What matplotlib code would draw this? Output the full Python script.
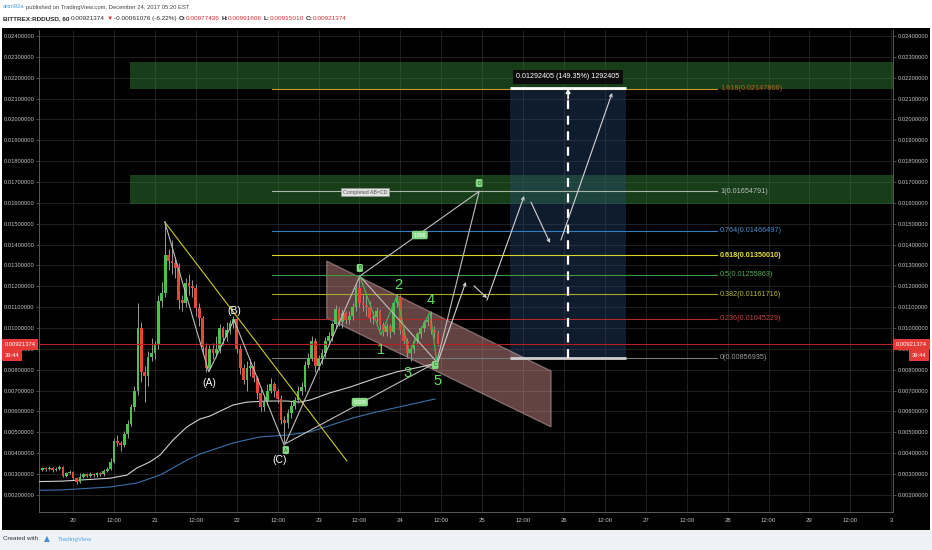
import numpy as np
import matplotlib
matplotlib.use("Agg")
import matplotlib.pyplot as plt
from matplotlib.patches import Rectangle, Polygon

UNIT = 1e-4  # candle / MA prices below are written in units of 0.0001 USD

# ---------------- hourly candles (hour 0 = Dec 20 00:00) ----------------
first_hour = -9
first_open = 32.0
closes = [32.8, 32.2, 33.0, 32.0, 32.6, 33.4, 29.0, 30.4, 31.0, 28.2,
          26.0, 28.5, 29.8, 29.2, 30.1, 29.4, 30.5, 30.0, 31.6, 32.6,
          36, 46, 45, 44, 49, 54, 62, 70, 100, 79,
          77, 86, 88, 92, 113, 117, 135, 132, 131, 129,
          113.5, 112, 121.5, 120, 119, 109.5, 105, 91, 81, 90,
          88, 90, 100, 95.5, 99, 102.5, 104.5, 90, 81, 75,
          81, 82, 76, 69, 62, 65, 70, 73, 70, 66,
          56, 54.5, 59.5, 62.5, 65.5, 70, 71.5, 82.5, 85.5, 94,
          82, 85, 88, 94, 96, 102, 109, 103, 107, 104,
          106, 110, 119, 112, 111, 110, 105, 105.5, 108, 101.5,
          98, 101, 98, 112, 115, 99, 94, 88, 90, 94,
          97, 100, 103, 104, 99, 97.7436, 92.1374]
highs = [33.6, 33.4, 33.8, 33.5, 33.2, 34.2, 34.0, 31.2, 31.8, 31.5,
         28.8, 30.6, 30.5, 30.4, 30.8, 30.6, 31.0, 31.2, 32.2, 33.4,
         37.5, 47.5, 48.5, 46, 50.5, 56, 63.5, 72, 112, 103,
         82, 89, 95, 94, 116, 122, 150, 138, 142, 134,
         131, 116, 124, 126, 123, 121, 112, 106, 93, 92,
         93, 96, 102, 101, 103, 104, 106, 105, 92, 83,
         84, 85, 84, 77, 71, 68, 73, 76, 74, 71,
         68, 58, 61, 65, 67, 72, 74, 84, 88, 96,
         95, 87, 90, 95.5, 98, 103, 111, 110, 109, 108,
         108, 112, 121, 125, 116, 117, 113, 108, 110, 109,
         103, 102.5, 102, 113, 116.5, 116, 100, 95, 92, 95,
         98, 101, 104, 106, 108, 101, 99.1606]
lows = [31.5, 31.6, 31.8, 31.2, 31.4, 32.0, 28.5, 28.6, 29.8, 27.6,
        25.4, 25.8, 27.9, 28.4, 28.6, 28.8, 28.5, 29.2, 29.3, 30.8,
        32.0, 35.5, 43.5, 41, 43, 47.5, 53, 60, 68, 74,
        64.5, 72, 84, 85, 90, 110, 115, 128, 126, 124,
        109, 108, 110, 116, 115, 106, 101, 88, 79, 80,
        85, 86, 88, 92, 94, 97, 100, 88, 78, 73,
        70, 77, 74, 66, 60, 60, 63, 69, 67, 64,
        54, 45, 52, 57, 61, 64, 68, 70, 81, 84,
        79, 80, 83, 86, 92, 94, 100, 101, 100, 102,
        102, 104, 108, 110, 108, 106, 103, 102, 103, 99,
        96, 96, 95, 97, 110, 97, 92, 86, 84, 88,
        92, 95, 98, 101, 97, 95, 91.501]

# moving averages
ma_white_hours = [-10.0, -3.3, 10.8, 15.8, 18.7, 22.5, 25.5, 29.3, 33.4, 37.2, 40.1,
                  46.9, 51.0, 56.9, 62.7, 66.5, 69.5, 75.3, 81.2, 89.1, 95.0, 101.8, 106.7]
ma_white = [26.4, 26.6, 28.0, 29.5, 32.9, 35.8, 39.1, 46.3, 52.6, 56.4, 57.8,
            63.1, 64.5, 65.0, 65.0, 64.5, 65.5, 68.9, 71.7, 76.1, 79.0, 81.3, 83.2]
ma_blue_hours = [-10.0, -3.3, 10.8, 18.7, 25.5, 33.4, 37.2, 46.9, 54.8, 62.7, 69.5, 82.1, 89.1, 106.2]
ma_blue = [22.2, 22.4, 23.8, 25.7, 29.5, 36.7, 39.6, 44.9, 47.8, 48.7, 50.2, 56.9, 59.8, 66.0]

# fibonacci levels
fib_ratios = ["1.618", "1", "0.764", "0.618", "0.5", "0.382", "0.236", "0"]
fib_prices = [0.02147866, 0.01654791, 0.01466497, 0.01350010,
              0.01255863, 0.01161716, 0.01045229, 0.00856935]
fib_line_colors = ['#c99a2e', '#aab4aa', '#2f7fc1', '#d8d42a', '#3d9a3d', '#a8a82c', '#b02a2a', '#7a7a7a']
fib_text_colors = ['#c0621c', '#bdbdbd', '#4a92d4', '#e6e03c', '#4caf50', '#b9b93e', '#c84444', '#9a9a9a']

last_price = 0.00921374
range_top = 0.0214934          # long-position target
range_label = "0.01292405 (149.35%) 1292405"

# wave / pattern points (hour, price in UNIT)
abc_hours = [26.9, 39.8, 47.2, 61.9]
abc_prices = [150.8, 79.0, 103.9, 43.9]
abc_text = ["(A)", "(B)", "(C)"]
abc_text_hours = [40.1, 47.2, 60.7]
abc_text_prices = [73.7, 108.2, 36.7]

wave_hours = [84.1, 90.3, 95.0, 98.5, 104.7, 106.7]
wave_prices = [124.9, 96.7, 115.4, 88.0, 107.7, 83.7]
wave_text = ["1", "2", "3", "4", "5"]
wave_text_hours = [90.3, 95.3, 98.2, 105.0, 107.0]
wave_text_prices = [89.4, 120.6, 78.5, 113.4, 74.6]

abcd_hours = [62.2, 84.1, 106.7, 119.1]
abcd_prices = [44.5, 124.9, 83.7, 165.5]
abcd_marks = ["A", "B", "C", "D"]
abcd_mark_hours = [62.4, 84.1, 106.2, 119.1]
abcd_mark_prices = [41.5, 128.8, 82.3, 169.5]
ratio_text = ["0.509", "1.586"]
ratio_hours = [84.1, 101.7]
ratio_prices = [64.5, 144.6]

trend_hours = [26.9, 80.3]
trend_prices = [150.8, 36.3]

channel_hours = [74.4, 140.2, 140.2, 74.4]
channel_prices = [132.1, 79.4, 52.6, 104.8]

arrow_start_hours = [107.0, 117.6, 121.4, 134.3, 143.1]
arrow_start_prices = [83.7, 120.2, 113.4, 160.4, 142.2]
arrow_end_hours = [115.2, 121.4, 132.3, 139.9, 158.1]
arrow_end_prices = [122.1, 114.4, 163.3, 140.8, 212.7]

zone_prices = [(0.02146, 0.02275), (0.01595, 0.01734)]

day_labels = ["20", "21", "22", "23", "24", "25", "26", "27", "28", "29", "3"]

# ---------------------------------------------------------------------
W, H = 932, 550
fig = plt.figure(figsize=(W / 100, H / 100), dpi=100)
fig.patch.set_facecolor('white')
fig.add_artist(Rectangle((0, 0), 1, 20 / H, transform=fig.transFigure,
                         facecolor='#eef2f7', edgecolor='none', zorder=-10))
fig.add_artist(Rectangle((2 / W, 20 / H), 928 / W, 502 / H, transform=fig.transFigure,
                         facecolor='black', edgecolor='none', zorder=-9))

FONT = ['Liberation Sans', 'DejaVu Sans']
plt.rcParams['font.family'] = FONT

ax = fig.add_axes([39 / W, 1 - 512 / H, (893 - 39) / W, (512 - 30) / H])
ax.set_facecolor('black')
ax.set_xlim(-10.0, 240.5)
ax.set_ylim(0.001181, 0.024288)

yt = [i * 0.001 for i in range(2, 25)]
ax.set_yticks(yt)
ax.set_yticklabels([f"{v:.8f}" for v in yt])
xt = list(range(0, 241, 12))
xl = []
for i, t in enumerate(xt):
    xl.append(day_labels[i // 2] if i % 2 == 0 else "12:00")
ax.set_xticks(xt)
ax.set_xticklabels(xl)
ax.tick_params(axis='y', colors='#6a6a6a', labelcolor='#c4c4c4', labelsize=4.15,
               left=True, right=True, labelleft=True, labelright=True,
               length=2, width=0.5, pad=1.2)
ax.tick_params(axis='x', colors='#6a6a6a', labelcolor='#c4c4c4', labelsize=4.3,
               length=0, pad=4)
ax.grid(True, color='#262626', lw=0.6)
ax.set_axisbelow(True)
for s in ['left', 'right', 'bottom']:
    ax.spines[s].set_color('#5a5a5a')
    ax.spines[s].set_linewidth(0.7)
ax.spines['top'].set_visible(False)

# zones
for lo, hi in zone_prices:
    ax.add_patch(Rectangle((16.7, lo), 240.5 - 16.7, hi - lo, facecolor='#2e7d32',
                           alpha=0.5, edgecolor='none', zorder=1))

# long position box
ax.add_patch(Rectangle((128.2, fib_prices[-1]), 162.2 - 128.2, range_top - fib_prices[-1],
                       facecolor='#2a4a7a', alpha=0.38, edgecolor='none', zorder=1))

# channel
ax.add_patch(Polygon(list(zip(channel_hours, np.array(channel_prices) * UNIT)), closed=True,
                     facecolor='#d08c8c', alpha=0.48, edgecolor='#dcbcbc', lw=0.9, zorder=2))

# fib lines and labels
for r, p, lc, tc in zip(fib_ratios, fib_prices, fib_line_colors, fib_text_colors):
    ax.plot([58.4, 188.9], [p, p], color=lc, lw=0.8, zorder=3)
    ax.text(189.8, p, f"{r}({p:.8f})", color=tc, fontsize=5.2, va='center', ha='left',
            fontweight='bold' if r == "0.618" else 'normal', zorder=8)

# moving averages
ax.plot(ma_white_hours, np.array(ma_white) * UNIT, color='#cfcfcf', lw=0.8, zorder=3)
ax.plot(ma_blue_hours, np.array(ma_blue) * UNIT, color='#3b70a8', lw=0.8, zorder=3)

# candles
c = np.array(closes) * UNIT
o = np.concatenate([[first_open * UNIT], c[:-1]])
hi_ = np.array(highs) * UNIT
lo_ = np.array(lows) * UNIT
hrs = np.arange(first_hour, first_hour + len(closes))
up = c >= o
cols = np.where(up, '#4fc04f', '#e6453c')
ax.vlines(hrs, lo_, hi_, color='#9a9a9a', lw=0.7, zorder=4)
ax.bar(hrs, np.maximum(np.abs(c - o), 0.00004), bottom=np.minimum(o, c), width=0.8,
       color=cols, linewidth=0, zorder=5)

# current price line
ax.axhline(last_price, color='#b52020', lw=0.8, zorder=6)

# yellow trend line
ax.plot(trend_hours, np.array(trend_prices) * UNIT, color='#c9c922', lw=0.8, zorder=6)

# ABC zigzag
ax.plot(abc_hours, np.array(abc_prices) * UNIT, color='#bdbdbd', lw=0.8, zorder=6)
for t, h, p in zip(abc_text, abc_text_hours, abc_text_prices):
    ax.text(h, p * UNIT, t, color='white', fontsize=7.5, ha='center', va='center', zorder=9)

# ABCD pattern
ah = abcd_hours
ap = np.array(abcd_prices) * UNIT
for i, j in [(0, 1), (1, 2), (2, 3), (0, 2), (1, 3)]:
    ax.plot([ah[i], ah[j]], [ap[i], ap[j]], color='#bfbfbf', lw=0.8, zorder=6)
for t, h, p in zip(ratio_text, ratio_hours, ratio_prices):
    ax.text(h, p * UNIT, t, color='white', fontsize=3.6, ha='center', va='center', zorder=9,
            bbox=dict(boxstyle='round,pad=0.35', fc='#86d886', ec='none'))
for t, h, p in zip(abcd_marks, abcd_mark_hours, abcd_mark_prices):
    ax.text(h, p * UNIT, t, color='#1b5e20', fontsize=3.6, ha='center', va='center', zorder=9,
            bbox=dict(boxstyle='round,pad=0.3', fc='#86d886', ec='none'))
ax.text(85.6, 0.01652, "Completed AB=CD", color='#555555', fontsize=3.8, ha='center', va='center',
        zorder=9, bbox=dict(boxstyle='square,pad=0.3', fc='#e2e2e2', ec='#9a9a9a', lw=0.4))

# elliott waves
ax.plot(wave_hours, np.array(wave_prices) * UNIT, color='#4caf50', lw=0.9, zorder=7)
for t, h, p in zip(wave_text, wave_text_hours, wave_text_prices):
    ax.text(h, p * UNIT, t, color='#5fe05f', fontsize=10.5, ha='center', va='center', zorder=9)

# projection arrows
for sh, sp, eh, ep in zip(arrow_start_hours, arrow_start_prices, arrow_end_hours, arrow_end_prices):
    ax.annotate('', xy=(eh, ep * UNIT), xytext=(sh, sp * UNIT), zorder=8,
                arrowprops=dict(arrowstyle='->', color='#d4d4d4', lw=0.8,
                                shrinkA=0, shrinkB=0, mutation_scale=5))

# long position lines
ax.plot([128.2, 162.2], [range_top, range_top], color='white', lw=2, zorder=7, solid_capstyle='butt')
ax.plot([128.2, 162.2], [fib_prices[-1], fib_prices[-1]], color='#cfcfcf', lw=2, zorder=7,
        solid_capstyle='butt')
ax.plot([145.2, 145.2], [fib_prices[-1], range_top - 0.0003], color='white', lw=1.6,
        dashes=(4, 3), zorder=7)
ax.annotate('', xy=(145.2, range_top), xytext=(145.2, range_top - 0.0005), zorder=8,
            arrowprops=dict(arrowstyle='->', color='white', lw=1.2, shrinkA=0, shrinkB=0,
                            mutation_scale=6))
ax.text(145.2, 0.02204, range_label, color='white', fontsize=5.1, ha='center', va='center',
        zorder=9, bbox=dict(boxstyle='square,pad=0.45', fc='#0c0c0c', ec='none'))

# price labels on the axes
def fig_box(x0, y0, x1, y1, color):
    fig.add_artist(Rectangle((x0 / W, 1 - y1 / H), (x1 - x0) / W, (y1 - y0) / H,
                             transform=fig.transFigure, facecolor=color, edgecolor='none', zorder=5))

def fig_txt(x, y, s, color, size, ha='left', weight='normal', family=FONT):
    return fig.text(x / W, 1 - y / H, s, color=color, fontsize=size, ha=ha, va='center',
                    fontweight=weight, family=family, zorder=6)

fig_box(2, 339, 38, 350, '#e53935')
fig_txt(20, 344.5, f"{last_price:.8f}", 'white', 4.2, ha='center')
fig_box(2, 350, 22, 361, '#e53935')
fig_txt(12, 355.5, "39:44", 'white', 4.2, ha='center')
fig_box(893, 339, 930, 350, '#e53935')
fig_txt(911.5, 344.5, f"{last_price:.8f}", 'white', 4.2, ha='center')
fig_box(909, 350, 929, 361, '#e53935')
fig_txt(919, 355.5, "39:44", 'white', 4.2, ha='center')

# header and footer
renderer = fig.canvas.get_renderer()

def seq(x, y, parts, size):
    for s, color, weight, gap in parts:
        t = fig_txt(x, y, s, color, size, weight=weight)
        x += t.get_window_extent(renderer=renderer).width + gap

red = '#d32f2f'
dark = '#2a2a2a'
seq(3, 7, [("artm92a", '#4a9ad8', 'normal', 1.4),
           ("published on TradingView.com, December 24, 2017 05:20 EST", '#444444', 'normal', 0)], 4.2)
seq(3, 18.5, [("BITTREX:RDDUSD, 60", dark, 'bold', 1.6),
              ("0.00921374", dark, 'normal', 1.6),
              ("\u25BC", red, 'normal', 1.6),
              ("-0.00061076 (-6.22%)", dark, 'normal', 1.8),
              ("O:", dark, 'bold', 0), ("0.00977436", red, 'normal', 1.8),
              ("H:", dark, 'bold', 0), ("0.00991606", red, 'normal', 1.8),
              ("L:", dark, 'bold', 0), ("0.00915010", red, 'normal', 1.8),
              ("C:", dark, 'bold', 0), ("0.00921374", red, 'normal', 0)], 4.55)
seq(3, 539, [("Created with", '#333333', 'normal', 3)], 4.5)
fig_txt(44, 539, "\u25B2", '#3f8fd9', 5.5, family=['DejaVu Sans'])
fig_txt(58, 539, "TradingView", '#5aa6e4', 4.5)

fig.savefig("out.png", dpi=100, facecolor=fig.get_facecolor())
